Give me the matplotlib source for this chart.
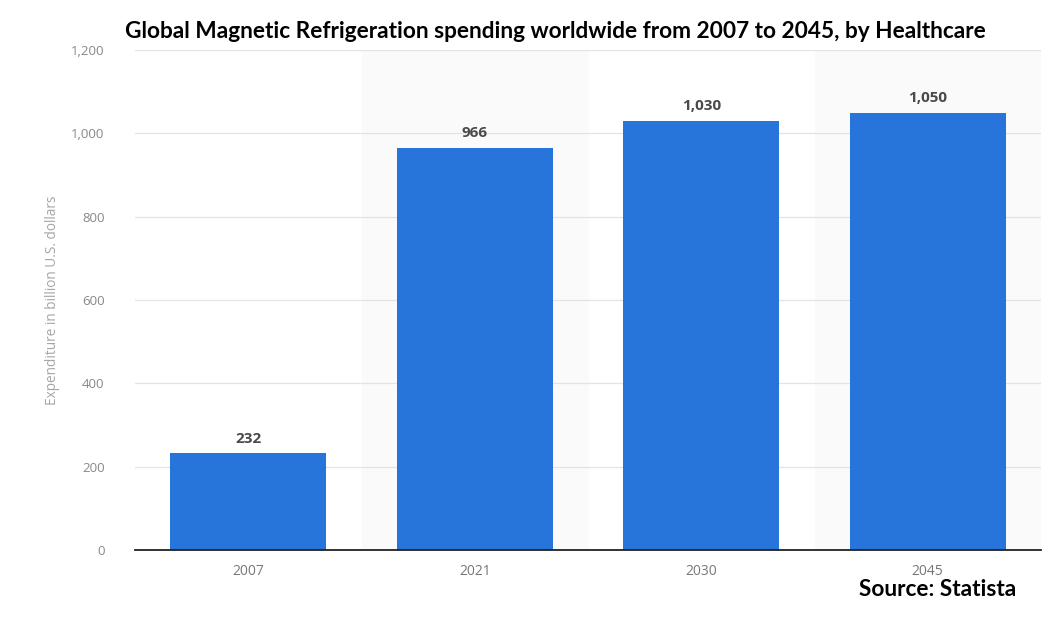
import matplotlib.pyplot as plt
import numpy as np

years = ["2007", "2021", "2030", "2045"]
spending = [232, 966, 1030, 1050]
value_labels = ["232", "966", "1,030", "1,050"]
y_ticks = [0, 200, 400, 600, 800, 1000, 1200]
y_tick_labels = ["0", "200", "400", "600", "800", "1,000", "1,200"]

fig = plt.figure(figsize=(10.58, 6.25), dpi=100)
ax = fig.add_axes([135 / 1058, 75 / 625, 906 / 1058, 500 / 625])

x = np.arange(len(years))

# light alternating bands behind every second category
for i in x:
    if i % 2 == 1:
        ax.axvspan(i - 0.5, i + 0.5, color="#fafafa", zorder=0)

ax.bar(x, spending, width=0.69, color="#2775db", zorder=3)

for xi, v, lab in zip(x, spending, value_labels):
    ax.text(xi, v + 18, lab, ha="center", va="bottom", fontsize=11,
            fontweight="bold", color="#4a4a4a", family="Open Sans", zorder=4)

ax.set_xlim(-0.5, 3.5)
ax.set_ylim(0, 1200)
ax.set_xticks(x)
ax.set_xticklabels(years, fontsize=10, color="#777777", family="Open Sans")
ax.set_yticks(y_ticks)
ax.set_yticklabels(y_tick_labels, fontsize=9.5, color="#888888", family="Open Sans")
ax.tick_params(axis="both", length=0)
ax.tick_params(axis="x", pad=10)
ax.tick_params(axis="y", pad=22)

ax.grid(axis="y", color="#e3e3e3", linewidth=0.9, zorder=1)
for s in ["top", "right", "left"]:
    ax.spines[s].set_visible(False)
ax.spines["bottom"].set_color("#222222")
ax.spines["bottom"].set_linewidth(1.3)
ax.spines["bottom"].set_zorder(5)

ax.set_ylabel("Expenditure in billion U.S. dollars", fontsize=9.8, color="#a5a5a5",
              family="Open Sans", labelpad=8)

fig.text(555 / 1058, 1 - 32 / 625,
         "Global Magnetic Refrigeration spending worldwide from 2007 to 2045, by Healthcare",
         ha="center", va="center", fontsize=16.3, fontweight="bold", color="black",
         family="Lato")
fig.text(938 / 1058, 1 - 590 / 625, "Source: Statista", ha="center", va="center",
         fontsize=16.3, fontweight="bold", color="black", family="Lato")

fig.savefig("out.png", dpi=100)
